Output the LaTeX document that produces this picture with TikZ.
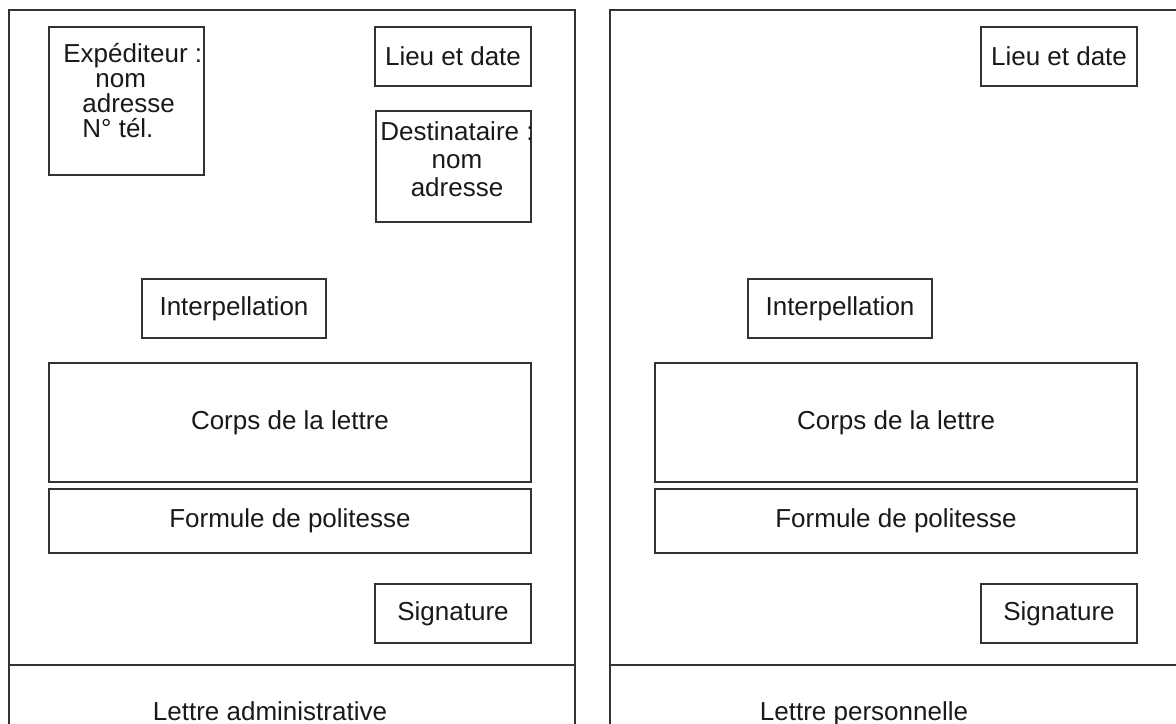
\documentclass[tikz,border=0pt]{standalone}
\usepackage{fontspec}
\setmainfont{Liberation Sans}

\tikzset{
  cadre/.style={draw=black!80, line width=.9pt},
  boite/.style={draw=black!80, line width=.9pt, inner sep=0pt, text=black!90},
  texte/.style={inner sep=0pt, text=black!90},
}

\begin{document}
\begin{tikzpicture}[x=.5pt, y=-.5pt, font=\fontsize{13}{12.5}\selectfont]
   \useasboundingbox (0,0) rectangle (1176,723);
   \clip (0,0) rectangle (1176,723);

   % les deux feuilles
   \draw[cadre] (9,730) -- (9,10) -- (575,10) -- (575,730);
   \draw[cadre] (9,665) -- (575,665);
   \draw[cadre] (610,730) -- (610,10) -- (1180,10);
   \draw[cadre] (610,665) -- (1180,665);

   % lettre administrative seulement
   \node[boite, minimum width=77.5pt, minimum height=74pt] (exp) at (126.5,101) {};
   \node[texte, align=left, anchor=north west] (exptxt) at (63,43)
      {Expéditeur :\\\hspace*{16pt}nom\\\hspace*{9.5pt}adresse\\\hspace*{9.5pt}N° tél.};
   \node[boite, minimum width=77.5pt, minimum height=55.5pt] (dest) at (453.5,166.5) {};
   \node[texte, align=center, anchor=north, font=\fontsize{13}{14}\selectfont] (desttxt) at (457,121)
      {Destinataire :\\nom\\adresse};

   % parties communes
   \foreach \s/\dx in {a/0, p/606} {
      \node[boite, minimum width=78pt, minimum height=29.5pt] (lieu\s) at (453+\dx,56.5) {Lieu et date};
      \node[boite, minimum width=92pt, minimum height=29.5pt] (interp\s) at (234+\dx,308.5) {Interpellation};
      \node[boite, minimum width=241pt, minimum height=59.5pt] (corps\s) at (290+\dx,422.5) {Corps de la lettre};
      \node[boite, minimum width=241pt, minimum height=32pt] (formule\s) at (290+\dx,521) {Formule de politesse};
      \node[boite, minimum width=78pt, minimum height=29.5pt] (sign\s) at (453+\dx,613.5) {Signature};
   }

   \node[texte, anchor=base] (titrea) at (270,720) {Lettre administrative};
   \node[texte, anchor=base] (titrep) at (864,720) {Lettre personnelle};

\end{tikzpicture}
\end{document}
